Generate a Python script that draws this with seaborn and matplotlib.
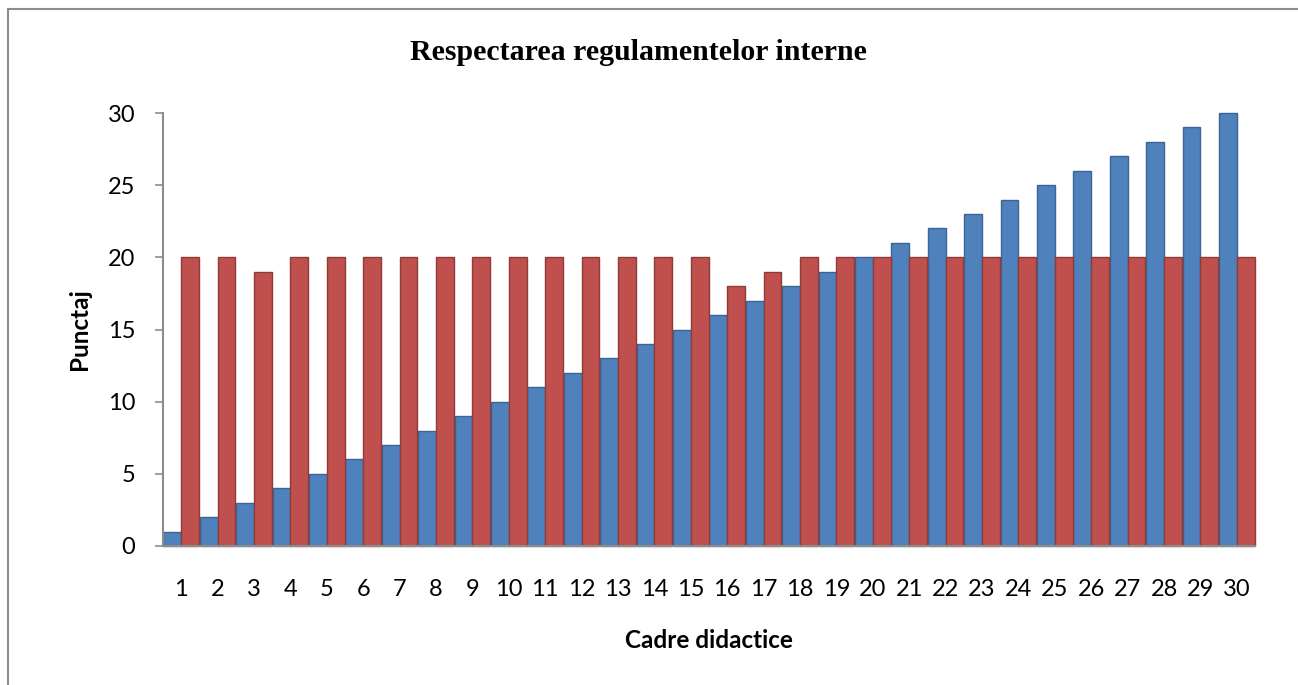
import pandas as pd
import matplotlib
matplotlib.use("Agg")
import matplotlib.pyplot as plt
import seaborn as sns
from matplotlib.patches import Rectangle

# Values
cadre = ['1', '2', '3', '4', '5', '6', '7', '8', '9', '10',
         '11', '12', '13', '14', '15', '16', '17', '18', '19', '20',
         '21', '22', '23', '24', '25', '26', '27', '28', '29', '30']
serie_albastra = [1, 2, 3, 4, 5, 6, 7, 8, 9, 10,
                  11, 12, 13, 14, 15, 16, 17, 18, 19, 20,
                  21, 22, 23, 24, 25, 26, 27, 28, 29, 30]
serie_rosie = [20, 20, 19, 20, 20, 20, 20, 20, 20, 20,
               20, 20, 20, 20, 20, 18, 19, 20, 20, 20,
               20, 20, 20, 20, 20, 20, 20, 20, 20, 20]
serii = ['Serie 1', 'Serie 2']
culori = ['#4F81BD', '#C0504D']
margini = ['#3A6496', '#8E3B39']

# Long-form table for seaborn
df = pd.DataFrame({
    'cadru': cadre * 2,
    'serie': [serii[0]] * len(cadre) + [serii[1]] * len(cadre),
    'punctaj': serie_albastra + serie_rosie,
})

sns.set_theme(style="white")
plt.rcParams['font.family'] = ['Lato', 'DejaVu Sans']
plt.rcParams['text.color'] = 'black'
plt.rcParams['axes.labelcolor'] = 'black'

fig = plt.figure(figsize=(12.98, 6.85), dpi=100)
ax = fig.add_axes([163 / 1298, 1 - 546 / 685, (1255 - 163) / 1298, (546 - 113) / 685])

sns.barplot(data=df, x='cadru', y='punctaj', hue='serie', order=cadre,
            hue_order=serii, palette=culori, saturation=1, width=0.98, gap=0,
            legend=False, ax=ax, linewidth=1)

# darker edges per series, a bit like the 3D cylinders
for cont, margine in zip(ax.containers, margini):
    for bara in cont:
        bara.set_edgecolor(margine)
        bara.set_clip_on(False)

ax.set_ylim(0, 30)
ax.set_xlim(-0.5, len(cadre) - 0.5)
ax.set_yticks([0, 5, 10, 15, 20, 25, 30])

for s in ['top', 'right']:
    ax.spines[s].set_visible(False)
for s in ['left', 'bottom']:
    ax.spines[s].set_color('#8C8C8C')
    ax.spines[s].set_linewidth(1.5)

ax.tick_params(axis='y', which='major', left=True, length=6, width=1.2,
               color='#8C8C8C', pad=14, labelsize=17, labelcolor='black')
ax.tick_params(axis='x', which='major', bottom=False, length=0, pad=24,
               labelsize=17, labelcolor='black')

ax.set_xlabel('Cadre didactice', fontsize=17.5, fontweight='bold', labelpad=21)
ax.set_ylabel('Punctaj', fontsize=17.5, fontweight='bold', labelpad=12)

fig.text(0.492, 1 - 53 / 685, 'Respectarea regulamentelor interne',
         ha='center', va='center', fontsize=21.5, fontweight='bold',
         color='black', family=['Liberation Serif', 'DejaVu Serif'])

# outer chart frame (only left and top edges are visible in the crop)
fig.patches.append(Rectangle((8 / 1298, -0.2), 1.2, 1 - 9 / 685 + 0.2,
                             transform=fig.transFigure, fill=False,
                             edgecolor='#8C8C8C', linewidth=1.5))

plt.savefig("out.png", dpi=100)
